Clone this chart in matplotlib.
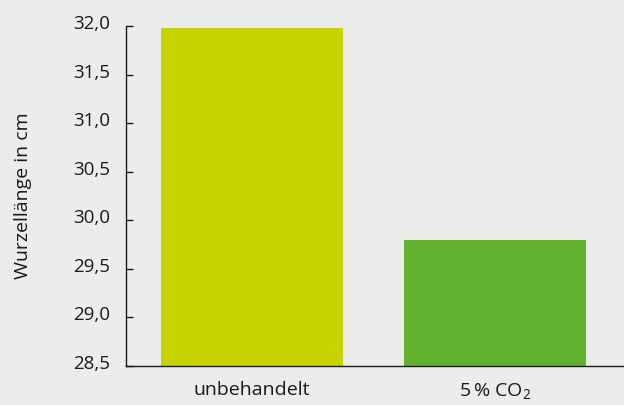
import matplotlib
matplotlib.use("Agg")
import matplotlib.pyplot as plt
from matplotlib.transforms import ScaledTranslation, blended_transform_factory

categories = ["unbehandelt", "5\u2009% CO$_\\mathregular{2}$"]
values = [31.98, 29.8]
colors = ["#c8d400", "#62b22f"]
yticks = [28.5, 29.0, 29.5, 30.0, 30.5, 31.0, 31.5, 32.0]
ytick_labels = ["28,5", "29,0", "29,5", "30,0", "30,5", "31,0", "31,5", "32,0"]

plt.rcParams["font.family"] = ["Open Sans", "DejaVu Sans"]
plt.rcParams["mathtext.fontset"] = "custom"
plt.rcParams["mathtext.rm"] = "Open Sans"

bg = "#ececec"
ink = "#1a1a1a"
fig = plt.figure(figsize=(6.24, 4.05), dpi=100, facecolor=bg)
ax = fig.add_axes([126 / 624, 1 - 366 / 405, (624 - 126) / 624, (366 - 26) / 405])
ax.set_facecolor(bg)

x = range(len(categories))
ax.bar(x, [v - yticks[0] for v in values], bottom=yticks[0], width=0.75,
       color=colors, zorder=2)

ax.set_ylim(28.5, 32.0)
ax.set_xlim(-0.519, 1.531)
ax.set_yticks(yticks)
ax.set_yticklabels([])
ax.set_xticks(list(x))
ax.set_xticklabels(categories, fontsize=14, color=ink)

# value labels sit a little above their tick marks
label_tf = blended_transform_factory(ax.transAxes, ax.transData) + \
    ScaledTranslation(-16 / 100, 4 / 100, fig.dpi_scale_trans)
for val, txt in zip(yticks, ytick_labels):
    ax.text(0, val, txt, transform=label_tf, ha="right", va="center_baseline",
            fontsize=13.5, color=ink, clip_on=False)

for side in ("top", "right"):
    ax.spines[side].set_visible(False)
for side in ("left", "bottom"):
    ax.spines[side].set_color(ink)
    ax.spines[side].set_linewidth(1.0)

ax.tick_params(axis="y", direction="in", length=5.2, width=1, color=ink)
ax.tick_params(axis="x", length=0, pad=11)

ax.set_ylabel("Wurzellänge in cm", fontsize=14, color=ink)
ax.yaxis.set_label_coords(-0.189, 0.5)

fig.savefig("out.png", dpi=100, facecolor=bg)
